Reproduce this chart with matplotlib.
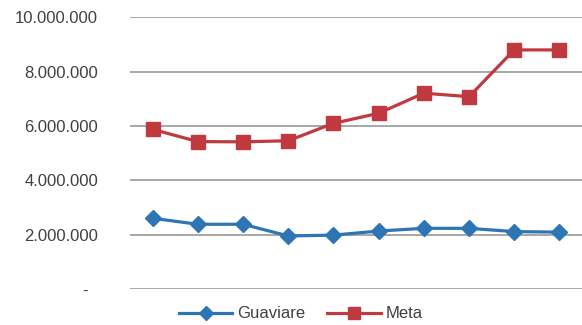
import matplotlib
matplotlib.use("Agg")
import matplotlib.pyplot as plt
from matplotlib.ticker import FuncFormatter

plt.rcParams['font.family'] = ['Liberation Sans', 'DejaVu Sans']

# data
categories = list(range(1, 11))
guaviare = [2610000, 2390000, 2390000, 1960000, 1990000, 2140000, 2240000, 2240000, 2120000, 2100000]
meta = [5880000, 5430000, 5420000, 5460000, 6100000, 6470000, 7210000, 7080000, 8800000, 8800000]
yticks = [0, 2000000, 4000000, 6000000, 8000000, 10000000]

blue = '#2E75B6'
red = '#C0393F'

fig = plt.figure(figsize=(5.82, 3.25), dpi=100)
ax = fig.add_axes([0.2234, 0.11, 0.7766, 0.8368])

x = list(range(len(categories)))
ax.plot(x, guaviare, color=blue, lw=2.3, marker='D', ms=8.5, label='Guaviare', zorder=3)
ax.plot(x, meta, color=red, lw=2.3, marker='s', ms=9.8, label='Meta', zorder=3)

ax.set_xlim(-0.5, len(categories) - 0.5)
ax.set_ylim(0, 10000000)
ax.set_yticks(yticks)

def fmt(v, pos):
    if v == 0:
        return '-  '
    return '{:,.0f}'.format(v).replace(',', '.')

ax.yaxis.set_major_formatter(FuncFormatter(fmt))
ax.grid(axis='y', color='#A0A0A0', lw=1.3)
ax.set_axisbelow(True)
ax.set_xticks([])
for s in ax.spines.values():
    s.set_visible(False)
ax.tick_params(axis='y', length=0, pad=23, labelsize=12, labelcolor='#404040')

fig.legend(loc='center', bbox_to_anchor=(0.517, 0.034), ncol=2, frameon=False,
           fontsize=12, handlelength=3.2, columnspacing=1.3, handletextpad=0.3,
           markerscale=0.85, labelcolor='#404040', borderpad=0)

fig.savefig('out.png', dpi=100)
